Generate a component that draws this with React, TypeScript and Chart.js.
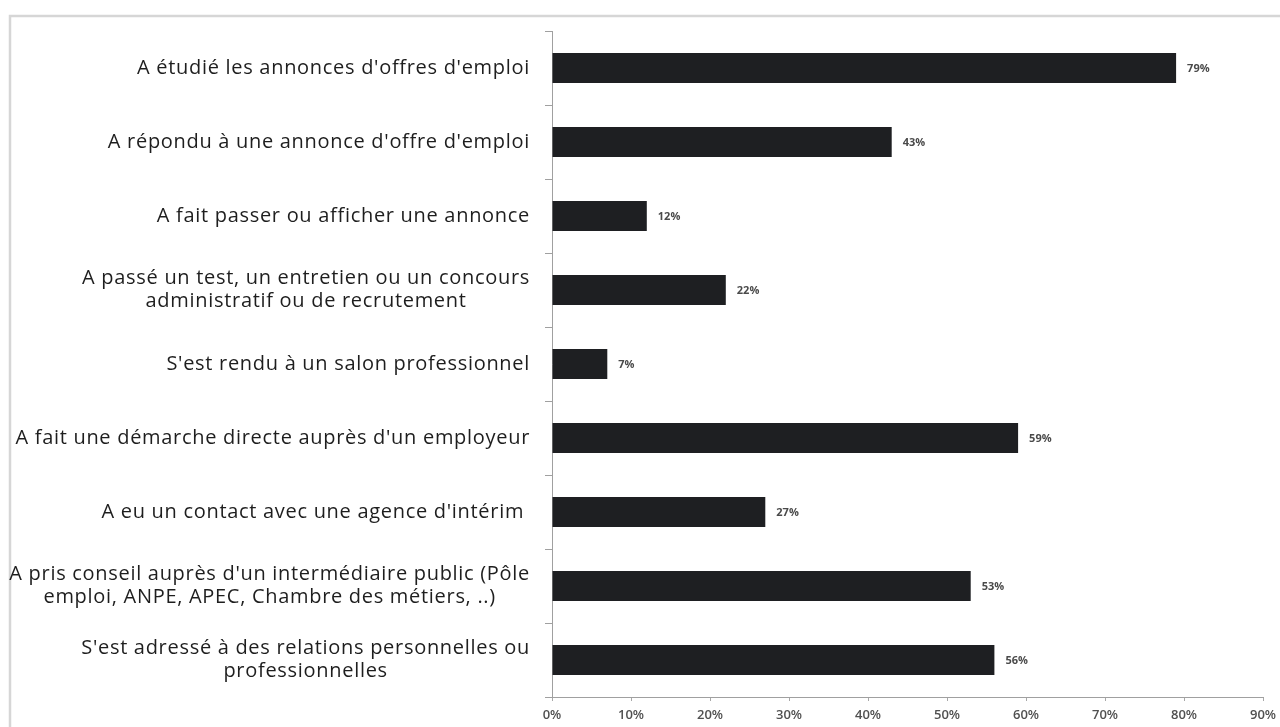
import React, { useEffect, useRef } from "react";
import { Chart, registerables } from "chart.js";

Chart.register(...registerables);

const categories: (string | string[])[] = [
  "A étudié les annonces d'offres d'emploi",
  "A répondu à une annonce d'offre d'emploi",
  "A fait passer ou afficher une annonce",
  ["A passé un test, un entretien ou un concours", "administratif ou de recrutement"],
  "S'est rendu à un salon professionnel",
  "A fait une démarche directe auprès d'un employeur",
  "A eu un contact avec une agence d'intérim ",
  ["A pris conseil auprès d'un intermédiaire public (Pôle", "emploi, ANPE, APEC, Chambre des métiers, ..)"],
  ["S'est adressé à des relations personnelles ou", "professionnelles"],
];

const values = [79, 43, 12, 22, 7, 59, 27, 53, 56];

const xTickLabels = ["0%", "10%", "20%", "30%", "40%", "50%", "60%", "70%", "80%", "90%"];

const LABEL_FONT = "20px 'Open Sans'";
const LABEL_RIGHT = 530;

const framePlugin = {
  id: "frame",
  beforeDraw(chart: any) {
    const ctx = chart.ctx;
    ctx.save();
    ctx.fillStyle = "#ffffff";
    ctx.fillRect(0, 0, chart.width, chart.height);
    ctx.strokeStyle = "#d6d6d6";
    ctx.lineWidth = 2.5;
    ctx.strokeRect(10, 16, chart.width + 20, chart.height + 20);
    ctx.restore();
  },
};

const catLabelPlugin = {
  id: "catLabels",
  afterDraw(chart: any) {
    const ctx = chart.ctx;
    const yScale = chart.scales.y;
    ctx.save();
    ctx.font = LABEL_FONT;
    (ctx as any).letterSpacing = "0.7px";
    ctx.fillStyle = "#1e1e1e";
    ctx.textBaseline = "middle";
    const lineH = 23;
    categories.forEach((lab, i) => {
      const y = yScale.getPixelForValue(i);
      const lines = Array.isArray(lab) ? lab : [lab];
      if (lines.length === 1) {
        ctx.textAlign = "right";
        ctx.fillText(lines[0], LABEL_RIGHT, y);
      } else {
        const maxW = Math.max(...lines.map((l) => ctx.measureText(l).width));
        const cx = LABEL_RIGHT - maxW / 2;
        ctx.textAlign = "center";
        const y0 = y - ((lines.length - 1) * lineH) / 2;
        lines.forEach((l, j) => ctx.fillText(l, cx, y0 + j * lineH));
      }
    });
    ctx.restore();
  },
};

const valueLabelPlugin = {
  id: "valueLabels",
  afterDatasetsDraw(chart: any) {
    const ctx = chart.ctx;
    const meta = chart.getDatasetMeta(0);
    ctx.save();
    ctx.font = "bold 11px 'Open Sans'";
    ctx.fillStyle = "#4a4a4a";
    ctx.textAlign = "left";
    ctx.textBaseline = "middle";
    meta.data.forEach((el: any, i: number) => {
      ctx.fillText(values[i] + "%", el.x + 11, el.y + 1);
    });
    ctx.restore();
  },
};

export default function App() {
  const ref = useRef<HTMLCanvasElement>(null);
  useEffect(() => {
    if (!ref.current) return;
    const chart = new Chart(ref.current, {
      type: "bar",
      data: {
        labels: categories.map((c) => (Array.isArray(c) ? c.join(" ") : c)),
        datasets: [
          {
            data: values,
            backgroundColor: "#1e1f22",
            borderColor: "#1e1f22",
            borderWidth: 0,
            categoryPercentage: 1,
            barPercentage: 0.405,
          },
        ],
      },
      options: {
        indexAxis: "y",
        animation: false,
        responsive: false,
        maintainAspectRatio: false,
        layout: { padding: { top: 31, right: 17, bottom: 0, left: 0 } },
        plugins: {
          legend: { display: false },
          tooltip: { enabled: false },
        },
        scales: {
          x: {
            min: 0,
            max: 90,
            ticks: {
              stepSize: 10,
              callback: (_v: any, i: number) => xTickLabels[i],
              font: { family: "'Open Sans'", size: 13, weight: "600" },
              color: "#505050",
              padding: 6,
              maxRotation: 0,
            },
            grid: { drawOnChartArea: false, drawTicks: true, tickLength: 4, color: "#a8a8a8" },
            border: { display: true, color: "#a0a0a0", width: 1 },
            afterFit: (s: any) => {
              s.height = 30;
              s.paddingLeft = 0;
              s.paddingRight = 0;
            },
          },
          y: {
            type: "category",
            offset: true,
            ticks: { display: false },
            grid: { drawOnChartArea: false, drawTicks: true, tickLength: 7, color: "#a0a0a0", offset: true },
            border: { display: true, color: "#a0a0a0", width: 1 },
            afterFit: (s: any) => {
              s.width = 552;
            },
          },
        },
      },
      plugins: [framePlugin, catLabelPlugin, valueLabelPlugin],
    });
    return () => chart.destroy();
  }, []);
  return (
    <div style={{ position: "fixed", left: 0, top: 0, width: 1280, height: 727, overflow: "hidden", background: "#fff" }}>
      <canvas ref={ref} width={1280} height={727} style={{ display: "block", width: 1280, height: 727 }} />
    </div>
  );
}
